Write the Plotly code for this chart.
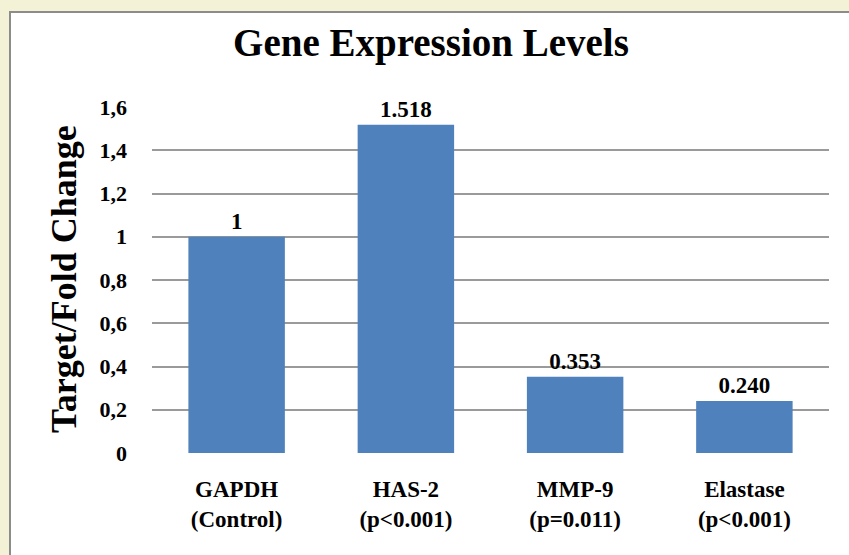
import plotly.graph_objects as go

categories = ["GAPDH<br>(Control)", "HAS-2<br>(p<0.001)", "MMP-9<br>(p=0.011)", "Elastase<br>(p<0.001)"]
values = [1.0, 1.518, 0.353, 0.240]
value_labels = ["1", "1.518", "0.353", "0.240"]
tick_vals = [0, 0.2, 0.4, 0.6, 0.8, 1.0, 1.2, 1.4, 1.6]
tick_text = ["0", "0,2", "0,4", "0,6", "0,8", "1", "1,2", "1,4", "1,6"]

FONT = "Liberation Serif"
L, R, T, B = 152, 20, 107, 102
W, H = 849, 555
pw, ph = W - L - R, H - T - B

def px_x(px):
    return (px - L) / pw

def px_y(py):
    return (H - B - py) / ph

fig = go.Figure()
fig.add_trace(go.Bar(
    x=categories, y=values,
    marker=dict(color="#4f81bd", line=dict(width=0)),
    text=["<b>%s</b>" % t for t in value_labels], textposition="outside",
    textfont=dict(family=FONT, size=23, color="black"),
    cliponaxis=False,
    width=0.57,
    hoverinfo="skip",
))

fig.add_shape(type="rect", xref="paper", yref="paper",
              x0=px_x(10), x1=px_x(900), y0=px_y(600), y1=px_y(12),
              fillcolor="white", line=dict(color="#8c8c8c", width=2), layer="below")

fig.add_annotation(text="<b>Target/Fold Change</b>", xref="paper", yref="paper",
                   x=px_x(64), y=px_y(279), xanchor="center", yanchor="middle",
                   textangle=-90, showarrow=False,
                   font=dict(family=FONT, size=36, color="black"))

fig.update_layout(
    width=W, height=H,
    margin=dict(l=L, r=R, t=T, b=B, pad=0),
    paper_bgcolor="#f4f2d6",
    plot_bgcolor="rgba(0,0,0,0)",
    font=dict(family=FONT, color="black"),
    title=dict(text="<b>Gene Expression Levels</b>", x=px_x(431), xref="paper",
               xanchor="center", y=1 - 42 / H, yanchor="middle",
               font=dict(family=FONT, size=39, color="black")),
    showlegend=False,
    bargap=0.43,
)
fig.update_xaxes(showgrid=False, showline=False, ticks="", automargin=False,
                 tickvals=categories,
                 ticktext=["<b>%s</b>" % c for c in categories],
                 tickfont=dict(family=FONT, size=23, color="black"),
                 ticklabelstandoff=20)
fig.update_yaxes(range=[0, 1.6], tickvals=tick_vals,
                 ticktext=["<b>%s</b>" % t for t in tick_text],
                 showgrid=True, gridcolor="#9a9a9a", gridwidth=1.5,
                 zeroline=False, showline=False, ticks="", automargin=False,
                 ticklabelstandoff=24,
                 tickfont=dict(family=FONT, size=22, color="black"))

fig.write_html("out.html", config={"displayModeBar": False},
               post_script="document.body.style.margin='0';")
